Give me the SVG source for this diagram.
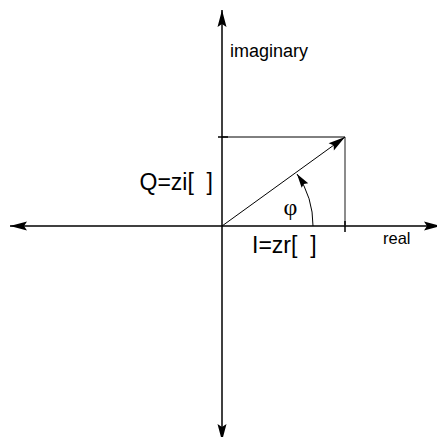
<svg xmlns="http://www.w3.org/2000/svg" width="437" height="437" viewBox="0 0 437 437">
<style>
.ax{stroke:#000;stroke-width:1.5;fill:none}
.thin{stroke:#000;stroke-width:1;fill:none}
.t{font-family:"Liberation Sans",Arial,sans-serif;fill:#000}
</style>
<defs>
<marker id="ah" markerUnits="userSpaceOnUse" markerWidth="20" markerHeight="12" refX="0" refY="0" viewBox="-17 -6 18 12" orient="auto" overflow="visible">
<path d="M0,0 L-17,-4.5 L-14,0 L-17,4.5 Z" fill="#000"/>
</marker>
<marker id="ahs" markerUnits="userSpaceOnUse" markerWidth="16" markerHeight="10" refX="0" refY="0" viewBox="-14 -5 15 10" orient="auto" overflow="visible">
<path d="M0,0 L-14,-4 L-12,0 L-14,4 Z" fill="#000"/>
</marker>
</defs>
<g id="connectors">
<line class="ax" x1="222" y1="226" x2="222" y2="10" marker-end="url(#ah)"/>
<line class="ax" x1="222" y1="226" x2="10" y2="226" marker-end="url(#ah)"/>
<line class="ax" x1="222" y1="226" x2="441" y2="226" marker-end="url(#ah)"/>
<line class="ax" x1="222" y1="226" x2="222" y2="441" marker-end="url(#ah)"/>
<line class="thin" x1="222" y1="137" x2="345" y2="137"/>
<line x1="345" y1="137" x2="345" y2="226" stroke="#666" stroke-width="1.5"/>
<line class="ax" x1="218" y1="137" x2="228" y2="137"/>
<line class="ax" x1="345" y1="221" x2="345" y2="232"/>
<line class="thin" x1="222" y1="226" x2="345" y2="137" marker-end="url(#ah)"/>
<path class="thin" d="M313,226 A91,91 0 0 0 297,174" marker-end="url(#ahs)"/>
</g>
<g id="labels">
<text class="t" x="230" y="57" font-size="18">imaginary</text>
<text class="t" x="213" y="190" font-size="23" text-anchor="end" xml:space="preserve">Q=zi[  ]</text>
<text class="t" x="252" y="253" font-size="23" xml:space="preserve">I=zr[  ]</text>
<text class="t" x="383" y="244" font-size="16.5">real</text>
<text x="290.5" y="215" font-size="24" text-anchor="middle" font-family="'Liberation Serif','Times New Roman',serif">φ</text>
</g>
</svg>
